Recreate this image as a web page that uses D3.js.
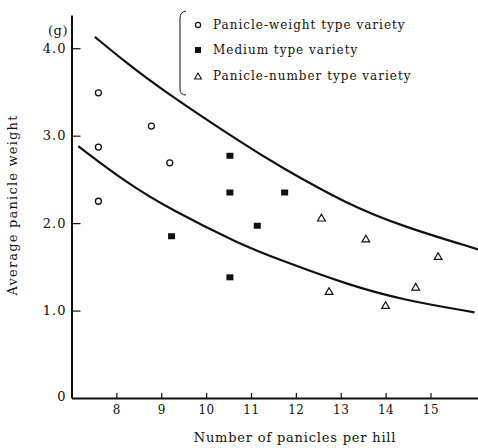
<!DOCTYPE html>
<html>
<head>
<meta charset="utf-8">
<script src="https://cdn.jsdelivr.net/npm/d3@7"></script>
<style>
  html, body { margin: 0; padding: 0; background: #fff; }
  svg { display: block; }
</style>
</head>
<body>
<svg id="chart" width="478" height="448"></svg>
<script>
// Panicle-weight type varieties: [panicles per hill, average panicle weight (g)]
const weightType = [[7.6, 3.49], [7.6, 2.87], [7.6, 2.25], [8.78, 3.11], [9.19, 2.69]];
// Medium type varieties
const mediumType = [[9.23, 1.85], [10.53, 2.77], [10.53, 2.35], [10.53, 1.38], [11.14, 1.97], [11.75, 2.35]];
// Panicle-number type varieties
const numberType = [[12.57, 2.05], [13.56, 1.81], [15.17, 1.61], [12.74, 1.21], [14.67, 1.26], [14.0, 1.05]];
// Upper and lower boundary curves
const upperCurve = [[7.52, 4.13], [8.23, 3.83], [8.97, 3.54], [10.9, 2.88], [11.64, 2.65], [13.13, 2.22], [14.39, 1.96], [16.06, 1.70]];
const lowerCurve = [[7.15, 2.88], [8.23, 2.46], [9.19, 2.16], [10.75, 1.76], [11.64, 1.58], [13.13, 1.30], [14.39, 1.12], [15.98, 0.98]];

const xTicks = [8, 9, 10, 11, 12, 13, 14, 15];
const yTicks = [0, 1, 2, 3, 4];
const legendLabels = ["Panicle-weight type variety", "Medium type variety", "Panicle-number type variety"];

const SERIF = "DejaVu Serif";
const INK = "#111";

const svg = d3.select("#chart").attr("font-family", SERIF);
const x = d3.scaleLinear().domain([7, 16.07]).range([71.5, 478.5]);
const y = d3.scaleLinear().domain([0, 4.38]).range([398, 15]);

function styleText(sel, size, spacing) {
  return sel.attr("font-family", SERIF).attr("font-size", size)
    .attr("letter-spacing", spacing).attr("fill", INK);
}

// x axis
const xAxis = svg.append("g")
  .attr("transform", `translate(0,${y(0)})`)
  .call(d3.axisBottom(x).tickValues(xTicks).tickSizeInner(-5).tickSizeOuter(0).tickPadding(7));
xAxis.attr("font-family", SERIF);
xAxis.select(".domain").attr("stroke", INK).attr("stroke-width", 2);
xAxis.selectAll(".tick line").attr("stroke", INK).attr("stroke-width", 1.2);
styleText(xAxis.selectAll(".tick text"), 12, 0.5);

// y axis
const yAxis = svg.append("g")
  .attr("transform", `translate(${x(7)},0)`)
  .call(d3.axisLeft(y).tickValues(yTicks).tickSizeInner(-9).tickSizeOuter(0).tickPadding(5)
    .tickFormat(d => d === 0 ? "0" : d.toFixed(1)));
yAxis.attr("font-family", SERIF);
yAxis.select(".domain").attr("stroke", INK).attr("stroke-width", 2);
yAxis.selectAll(".tick line").attr("stroke", INK).attr("stroke-width", 1.2);
styleText(yAxis.selectAll(".tick text"), 13, 1);
yAxis.selectAll(".tick").filter(d => d === 0).select("line").remove();
yAxis.selectAll(".tick").filter(d => d === 0).select("text").attr("dy", "0.2em");

// unit label
styleText(svg.append("text").attr("x", 58).attr("y", 35).attr("text-anchor", "middle"), 13, 0.5).text("(g)");

// axis titles
styleText(svg.append("text").attr("x", 295).attr("y", 442).attr("text-anchor", "middle"), 13, 0.8)
  .text("Number of panicles per hill");
styleText(svg.append("text").attr("transform", "translate(17,205) rotate(-90)").attr("text-anchor", "middle"), 13, 1.2)
  .text("Average panicle weight");

// boundary curves
const line = d3.line().x(d => x(d[0])).y(d => y(d[1])).curve(d3.curveBasis);
[upperCurve, lowerCurve].forEach(c => {
  svg.append("path").attr("d", line(c)).attr("fill", "none")
    .attr("stroke", INK).attr("stroke-width", 2.2);
});

// markers
const tri = d3.symbol().type(d3.symbolTriangle).size(26);
svg.append("g").selectAll("circle").data(weightType).join("circle")
  .attr("cx", d => x(d[0])).attr("cy", d => y(d[1])).attr("r", 3)
  .attr("fill", "none").attr("stroke", INK).attr("stroke-width", 1.3);
svg.append("g").selectAll("rect").data(mediumType).join("rect")
  .attr("x", d => x(d[0]) - 3.5).attr("y", d => y(d[1]) - 3).attr("width", 7).attr("height", 6)
  .attr("fill", INK);
svg.append("g").selectAll("path").data(numberType).join("path")
  .attr("transform", d => `translate(${x(d[0])},${y(d[1])})`).attr("d", tri)
  .attr("fill", "none").attr("stroke", INK).attr("stroke-width", 1.2);

// legend with bracket
const legend = svg.append("g");
legend.append("path").attr("d", "M186,11 Q180,12 180,18 L180,89 Q180,95 186,95")
  .attr("fill", "none").attr("stroke", INK).attr("stroke-width", 1);
const rowY = [25, 50, 76];
legendLabels.forEach((lab, i) => {
  const cy = rowY[i], cx = 198;
  if (i === 0) legend.append("circle").attr("cx", cx).attr("cy", cy).attr("r", 2.6)
    .attr("fill", "none").attr("stroke", INK).attr("stroke-width", 1.2);
  if (i === 1) legend.append("rect").attr("x", cx - 3).attr("y", cy - 3).attr("width", 6).attr("height", 6).attr("fill", INK);
  if (i === 2) legend.append("path").attr("transform", `translate(${cx},${cy + 1})`)
    .attr("d", d3.symbol().type(d3.symbolTriangle).size(20)).attr("fill", "none").attr("stroke", INK).attr("stroke-width", 1.1);
  styleText(legend.append("text").attr("x", 213).attr("y", cy + 4), 12, 1).text(lab);
});
</script>
</body>
</html>
